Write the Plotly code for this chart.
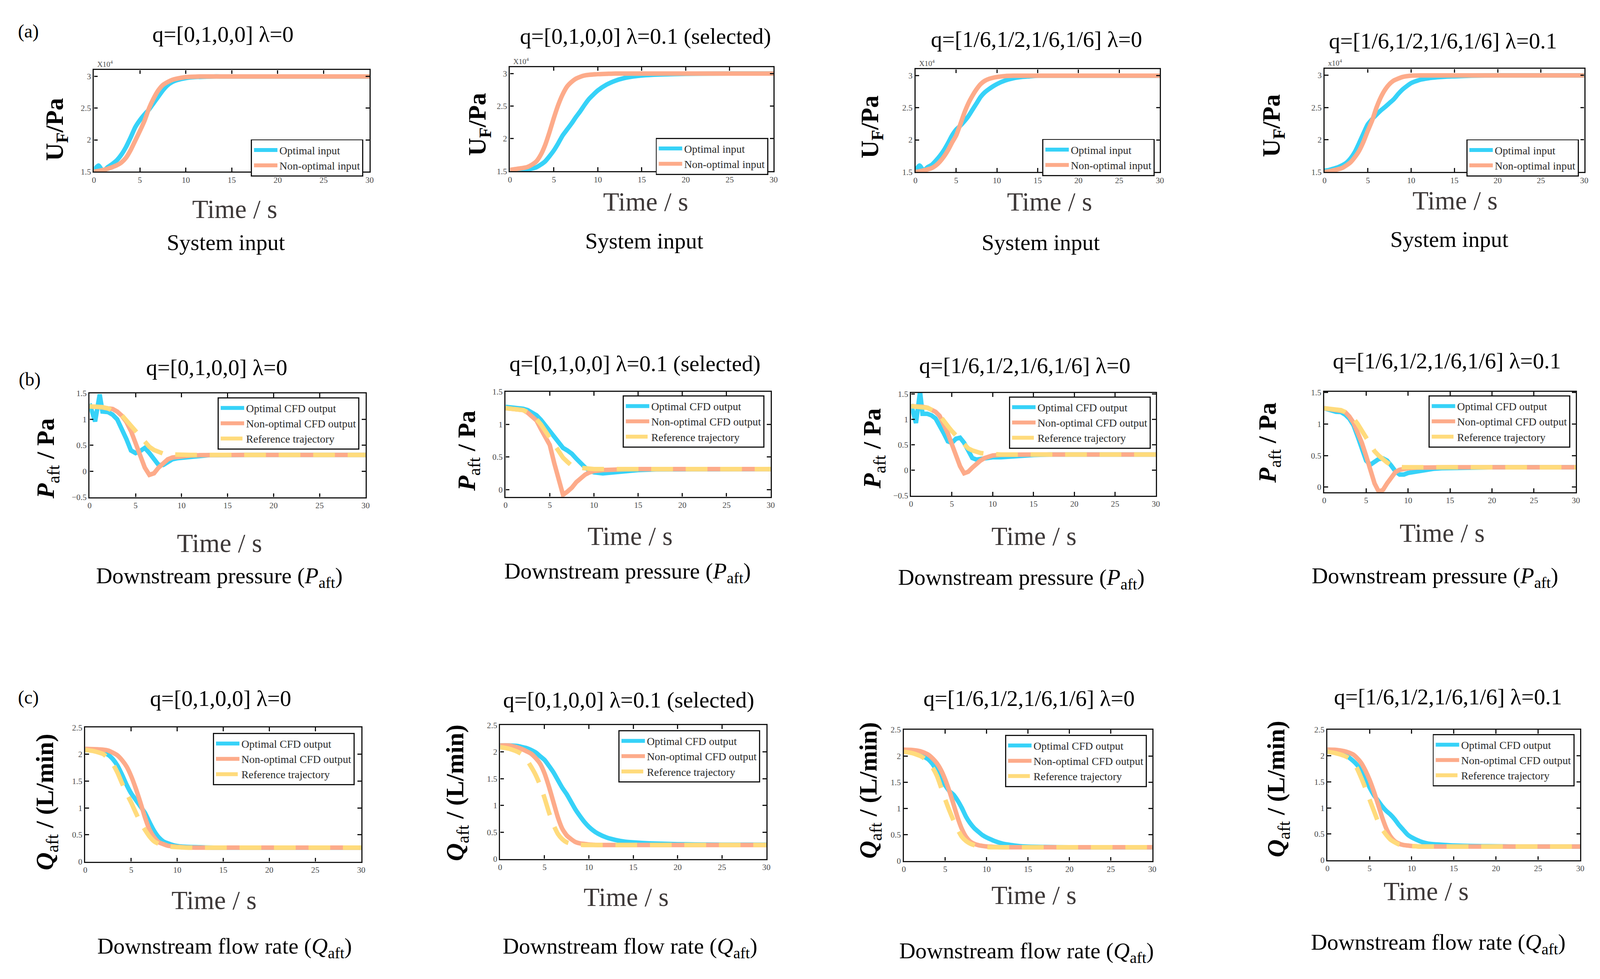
import plotly.graph_objects as go

# reference page size; sizes below are scaled so the figure can fill the window
REF_W, REF_H = 4377, 2506
S = 0.96
FONT = "Liberation Serif, Times New Roman, serif"
BLUE = "#36D2F8"
ORANGE = "#FDAB8A"
YELLOW = "#FFDB7C"

# ---- row (a): system input, units of 1e4 Pa ----
t_in = [0, 0.5, 1, 1.5, 2, 2.5, 3, 3.5, 4, 4.5, 5, 5.5, 6, 6.5, 7, 7.5, 8, 8.5, 9,
        10, 11, 12, 13, 14, 15, 17, 20, 25, 30]
a1_opt = [1.52, 1.595, 1.505, 1.57, 1.62, 1.68, 1.77, 1.89, 2.04, 2.2, 2.31, 2.4, 2.48, 2.58,
          2.68, 2.78, 2.86, 2.91, 2.94, 2.975, 2.99, 2.995, 3.0, 3.0, 3.0, 3.0, 3.0, 3.0, 3.0]
a1_non = [1.5, 1.51, 1.525, 1.545, 1.57, 1.6, 1.645, 1.72, 1.84, 1.99, 2.14, 2.3, 2.5, 2.655,
          2.78, 2.865, 2.91, 2.945, 2.965, 2.99, 2.997, 3.0, 3.0, 3.0, 3.0, 3.0, 3.0, 3.0, 3.0]
a2_opt = [1.5, 1.505, 1.51, 1.515, 1.525, 1.54, 1.56, 1.6, 1.65, 1.73, 1.82, 1.93, 2.05, 2.14,
          2.23, 2.33, 2.42, 2.52, 2.61, 2.74, 2.83, 2.89, 2.93, 2.955, 2.97, 2.985, 2.995, 3.0, 3.0]
a2_non = [1.52, 1.53, 1.54, 1.55, 1.565, 1.6, 1.65, 1.75, 1.9, 2.1, 2.32, 2.52, 2.68, 2.8,
          2.87, 2.92, 2.95, 2.97, 2.98, 2.99, 2.995, 3.0, 3.0, 3.0, 3.0, 3.0, 3.0, 3.0, 3.0]
a3_opt = [1.52, 1.6, 1.525, 1.575, 1.61, 1.675, 1.75, 1.84, 1.95, 2.07, 2.16, 2.22, 2.29, 2.37,
          2.47, 2.57, 2.67, 2.74, 2.79, 2.87, 2.925, 2.96, 2.98, 2.99, 3.0, 3.0, 3.0, 3.0, 3.0]
a3_non = [1.5, 1.51, 1.525, 1.54, 1.56, 1.6, 1.66, 1.74, 1.84, 1.96, 2.07, 2.24, 2.42, 2.57,
          2.69, 2.79, 2.87, 2.92, 2.95, 2.98, 2.995, 3.0, 3.0, 3.0, 3.0, 3.0, 3.0, 3.0, 3.0]
a4_opt = [1.52, 1.53, 1.55, 1.57, 1.6, 1.64, 1.71, 1.81, 1.95, 2.1, 2.24, 2.32, 2.39, 2.455,
          2.51, 2.57, 2.63, 2.71, 2.78, 2.88, 2.93, 2.955, 2.97, 2.98, 2.985, 2.995, 3.0, 3.0, 3.0]
a4_non = [1.5, 1.51, 1.525, 1.54, 1.56, 1.6, 1.65, 1.73, 1.83, 1.97, 2.14, 2.3, 2.5, 2.66,
          2.78, 2.865, 2.92, 2.95, 2.975, 2.995, 3.0, 3.0, 3.0, 3.0, 3.0, 3.0, 3.0, 3.0, 3.0]

# ---- row (b): downstream pressure, Pa ----
t_p = [0, 0.6, 1.1, 1.4, 2, 2.5, 3, 3.5, 4, 4.5, 5, 5.5, 6, 6.5, 7, 7.5, 8, 8.5, 9, 9.5,
       10, 11, 12, 13, 14, 15, 17, 20, 25, 30]
b1_opt = [1.30, 0.96, 1.48, 1.15, 1.14, 1.09, 1.0, 0.83, 0.62, 0.40, 0.35, 0.39, 0.45, 0.35, 0.23,
          0.12, 0.12, 0.18, 0.23, 0.25, 0.26, 0.29, 0.305, 0.31, 0.31, 0.315, 0.315, 0.315, 0.315, 0.315]
b1_non = [1.25, 1.245, 1.235, 1.23, 1.21, 1.2, 1.15, 1.07, 0.95, 0.775, 0.54, 0.29, 0.07, -0.07, -0.04,
          0.07, 0.165, 0.23, 0.265, 0.28, 0.295, 0.305, 0.31, 0.315, 0.315, 0.315, 0.315, 0.315, 0.315, 0.315]
b1_ref = [1.25, 1.245, 1.24, 1.235, 1.21, 1.18, 1.13, 1.08, 0.98, 0.88, 0.78, 0.66, 0.555, 0.47, 0.41,
          0.37, 0.34, 0.325, 0.32, 0.315, 0.315, 0.315, 0.315, 0.315, 0.315, 0.315, 0.315, 0.315, 0.315, 0.315]
b2_opt = [1.27, 1.265, 1.26, 1.255, 1.24, 1.22, 1.18, 1.14, 1.07, 0.98, 0.91, 0.81, 0.71, 0.64, 0.6,
          0.55, 0.475, 0.4, 0.34, 0.29, 0.265, 0.25, 0.265, 0.28, 0.29, 0.3, 0.31, 0.315, 0.315, 0.315]
b2_non = [1.25, 1.245, 1.24, 1.235, 1.22, 1.18, 1.13, 1.06, 0.93, 0.81, 0.685, 0.41, 0.165, -0.08, -0.03,
          0.03, 0.115, 0.18, 0.23, 0.265, 0.285, 0.3, 0.31, 0.315, 0.315, 0.315, 0.315, 0.315, 0.315, 0.315]
b2_ref = [1.25, 1.245, 1.24, 1.235, 1.22, 1.19, 1.14, 1.08, 1.0, 0.9, 0.785, 0.685, 0.585, 0.49, 0.425,
          0.365, 0.34, 0.33, 0.32, 0.315, 0.315, 0.315, 0.315, 0.315, 0.315, 0.315, 0.315, 0.315, 0.315, 0.315]
b3_opt = [1.3, 0.93, 1.55, 1.11, 1.11, 1.08, 1.02, 0.89, 0.73, 0.57, 0.54, 0.62, 0.64, 0.54, 0.38,
          0.24, 0.21, 0.22, 0.24, 0.25, 0.255, 0.255, 0.27, 0.28, 0.29, 0.3, 0.31, 0.31, 0.31, 0.31]
b3_non = [1.26, 1.26, 1.26, 1.25, 1.23, 1.19, 1.15, 1.07, 0.92, 0.73, 0.51, 0.29, 0.08, -0.06, -0.03,
          0.05, 0.13, 0.19, 0.24, 0.265, 0.29, 0.305, 0.31, 0.31, 0.31, 0.31, 0.31, 0.31, 0.31, 0.31]
b3_ref = [1.26, 1.255, 1.25, 1.245, 1.23, 1.19, 1.15, 1.08, 0.99, 0.87, 0.77, 0.68, 0.58, 0.49, 0.43,
          0.39, 0.355, 0.34, 0.33, 0.32, 0.315, 0.31, 0.31, 0.31, 0.31, 0.31, 0.31, 0.31, 0.31, 0.31]
b4_opt = [1.25, 1.22, 1.2, 1.195, 1.19, 1.15, 1.085, 0.98, 0.8, 0.6, 0.42, 0.355, 0.405, 0.445, 0.455,
          0.42, 0.34, 0.25, 0.2, 0.2, 0.225, 0.25, 0.28, 0.29, 0.3, 0.305, 0.31, 0.315, 0.315, 0.315]
b4_non = [1.25, 1.24, 1.23, 1.225, 1.21, 1.19, 1.12, 1.02, 0.88, 0.7, 0.495, 0.265, 0.06, -0.07, -0.045,
          0.06, 0.16, 0.24, 0.275, 0.29, 0.3, 0.31, 0.315, 0.315, 0.315, 0.315, 0.315, 0.315, 0.315, 0.315]
b4_ref = [1.25, 1.245, 1.24, 1.235, 1.22, 1.19, 1.15, 1.09, 1.0, 0.89, 0.78, 0.67, 0.57, 0.5, 0.44,
          0.39, 0.35, 0.33, 0.32, 0.315, 0.315, 0.315, 0.315, 0.315, 0.315, 0.315, 0.315, 0.315, 0.315, 0.315]

# ---- row (c): downstream flow rate, L/min ----
t_q = [0, 1, 2, 2.5, 3, 3.5, 4, 4.5, 5, 5.5, 6, 6.5, 7, 7.5, 8, 8.5, 9, 9.5, 10, 10.5,
       11, 12, 13, 14, 15, 17, 20, 22, 25, 30]
c1_opt = [2.08, 2.07, 2.03, 1.99, 1.91, 1.79, 1.62, 1.43, 1.27, 1.15, 1.03, 0.905, 0.73, 0.57, 0.45,
          0.375, 0.34, 0.31, 0.29, 0.28, 0.275, 0.27, 0.265, 0.26, 0.26, 0.26, 0.26, 0.26, 0.26, 0.26]
c1_non = [2.1, 2.095, 2.085, 2.07, 2.03, 1.98, 1.89, 1.77, 1.59, 1.36, 1.1, 0.82, 0.59, 0.45, 0.36,
          0.325, 0.295, 0.285, 0.275, 0.27, 0.265, 0.26, 0.26, 0.26, 0.26, 0.26, 0.26, 0.26, 0.26, 0.26]
c1_ref = [2.08, 2.056, 2.0, 1.92, 1.82, 1.66, 1.46, 1.27, 1.1, 0.91, 0.73, 0.59, 0.465, 0.375, 0.33,
          0.3, 0.285, 0.275, 0.27, 0.265, 0.26, 0.26, 0.26, 0.26, 0.26, 0.26, 0.26, 0.26, 0.26, 0.26]
c2_opt = [2.12, 2.12, 2.11, 2.09, 2.07, 2.035, 1.99, 1.92, 1.85, 1.74, 1.62, 1.475, 1.33, 1.21, 1.065,
          0.92, 0.8, 0.69, 0.6, 0.53, 0.475, 0.4, 0.355, 0.325, 0.31, 0.29, 0.275, 0.27, 0.265, 0.265]
c2_non = [2.12, 2.12, 2.08, 2.05, 2.01, 1.965, 1.885, 1.78, 1.6, 1.35, 1.065, 0.78, 0.565, 0.44, 0.37,
          0.315, 0.29, 0.28, 0.27, 0.265, 0.26, 0.26, 0.26, 0.26, 0.26, 0.26, 0.26, 0.26, 0.26, 0.26]
c2_ref = [2.09, 2.06, 2.0, 1.95, 1.85, 1.72, 1.57, 1.38, 1.14, 0.87, 0.64, 0.47, 0.37, 0.31, 0.285,
          0.27, 0.265, 0.26, 0.26, 0.26, 0.26, 0.26, 0.26, 0.26, 0.26, 0.26, 0.26, 0.26, 0.26, 0.26]
c3_opt = [2.1, 2.065, 2.02, 1.98, 1.93, 1.84, 1.71, 1.57, 1.44, 1.33, 1.26, 1.15, 1.01, 0.845, 0.72,
          0.625, 0.555, 0.49, 0.445, 0.41, 0.375, 0.325, 0.3, 0.28, 0.27, 0.265, 0.26, 0.26, 0.26, 0.26]
c3_non = [2.12, 2.115, 2.09, 2.06, 2.02, 1.95, 1.86, 1.73, 1.55, 1.33, 1.08, 0.825, 0.61, 0.46, 0.37,
          0.325, 0.3, 0.285, 0.275, 0.27, 0.265, 0.26, 0.26, 0.26, 0.26, 0.26, 0.26, 0.26, 0.26, 0.26]
c3_ref = [2.08, 2.055, 2.0, 1.95, 1.875, 1.77, 1.62, 1.4, 1.17, 0.96, 0.77, 0.6, 0.46, 0.38, 0.33,
          0.3, 0.28, 0.27, 0.265, 0.26, 0.26, 0.26, 0.26, 0.26, 0.26, 0.26, 0.26, 0.26, 0.26, 0.26]
c4_opt = [2.1, 2.07, 2.03, 1.975, 1.91, 1.83, 1.72, 1.56, 1.395, 1.25, 1.14, 1.03, 0.94, 0.87, 0.78,
          0.67, 0.58, 0.49, 0.435, 0.395, 0.36, 0.315, 0.3, 0.29, 0.28, 0.27, 0.265, 0.26, 0.26, 0.26]
c4_non = [2.12, 2.115, 2.09, 2.065, 2.03, 1.96, 1.865, 1.72, 1.54, 1.32, 1.07, 0.815, 0.6, 0.45, 0.36,
          0.315, 0.29, 0.28, 0.27, 0.265, 0.26, 0.26, 0.26, 0.26, 0.26, 0.26, 0.26, 0.26, 0.26, 0.26]
c4_ref = [2.08, 2.05, 2.0, 1.96, 1.88, 1.76, 1.58, 1.38, 1.16, 0.95, 0.74, 0.59, 0.48, 0.39, 0.34,
          0.3, 0.285, 0.275, 0.27, 0.265, 0.26, 0.26, 0.26, 0.26, 0.26, 0.26, 0.26, 0.26, 0.26, 0.26]

# ---- labels ----
q_titles = ["q=[0,1,0,0] λ=0", "q=[0,1,0,0] λ=0.1 (selected)",
            "q=[1/6,1/2,1/6,1/6] λ=0", "q=[1/6,1/2,1/6,1/6] λ=0.1"]
row_tags = ["(a)", "(b)", "(c)"]
row_captions = ["System input",
                "Downstream pressure (<i>P</i><sub>aft</sub>)",
                "Downstream flow rate (<i>Q</i><sub>aft</sub>)"]
y_labels = ["<b>U<sub>F</sub>/Pa</b>",
            "<b><i>P</i></b><sub>aft</sub><b> / Pa</b>",
            "<b><i>Q</i></b><sub>aft</sub><b> / (L/min)</b>"]
x_label = "Time / s"
names_in = ["Optimal input", "Non-optimal input"]
names_out = ["Optimal CFD output", "Non-optimal CFD output", "Reference trajectory"]
exp_labels = ["X10<sup>4</sup>", "X10<sup>4</sup>", "X10<sup>4</sup>", "x10<sup>4</sup>"]
x_ticks = [0, 5, 10, 15, 20, 25, 30]
y_ticks_a = [1.5, 2, 2.5, 3]
y_ticks_b = [-0.5, 0, 0.5, 1, 1.5]
y_ticks_c = [0, 0.5, 1, 1.5, 2, 2.5]

series = [
    (t_in, [a1_opt, a1_non]), (t_in, [a2_opt, a2_non]), (t_in, [a3_opt, a3_non]), (t_in, [a4_opt, a4_non]),
    (t_p, [b1_opt, b1_non, b1_ref]), (t_p, [b2_opt, b2_non, b2_ref]),
    (t_p, [b3_opt, b3_non, b3_ref]), (t_p, [b4_opt, b4_non, b4_ref]),
    (t_q, [c1_opt, c1_non, c1_ref]), (t_q, [c2_opt, c2_non, c2_ref]),
    (t_q, [c3_opt, c3_non, c3_ref]), (t_q, [c4_opt, c4_non, c4_ref]),
]

# ---- layout geometry in reference pixels (left, right, top, bottom) ----
BOX = [(245, 1005, 162, 426), (1392, 2119, 154, 425), (2510, 3184, 160, 427), (3638, 4354, 159, 427),
       (233, 994, 1003, 1273), (1380, 2111, 999, 1272), (2498, 3173, 1002, 1269), (3637, 4331, 999, 1260),
       (221, 982, 1872, 2221), (1365, 2099, 1866, 2214), (2478, 3163, 1878, 2219), (3646, 4343, 1878, 2217)]
Y_RANGE = [[1.5, 3.1]] * 4 + [[-0.5, 1.5], [-0.11, 1.5], [-0.5, 1.52], [-0.08, 1.51]] + [[0, 2.5]] * 4
TITLE_POS = [(601, 69), (1766, 74), (2844, 82), (3965, 86), (584, 935), (1737, 926), (2812, 930),
             (3975, 918), (594, 1796), (1719, 1801), (2823, 1796), (3978, 1792)]
XLAB_POS = [(633, 524), (1766, 505), (2880, 505), (3998, 501), (591, 1393), (1723, 1374), (2837, 1374),
            (3962, 1366), (576, 2322), (1712, 2313), (2837, 2308), (3918, 2298)]
CAP_POS = [(608, 610), (1762, 606), (2855, 610), (3982, 602), (591, 1482), (1716, 1469), (2802, 1486),
           (3942, 1482), (605, 2445), (1723, 2445), (2816, 2457), (3952, 2435)]
YLAB_POS = [(142, 316), (1307, 303), (2389, 310), (3496, 307), (117, 1173), (1278, 1153), (2396, 1147),
            (3486, 1132), (114, 2066), (1246, 2042), (2385, 2035), (3510, 2032)]
LEG_POS = [(988, 342), (2104, 338), (3170, 341), (4339, 342), (977, 1013), (2094, 1008), (3159, 1011),
           (4316, 1008), (964, 1886), (2082, 1879), (3148, 1891), (4327, 1889)]
TAG_POS = [(64, 61), (68, 966), (64, 1794)]


def px(x):
    return x / REF_W


def py(y):
    return 1 - y / REF_H


def sz(v):
    return round(v * S, 1)


def ann(text, x, y, size, color="black", **kw):
    return dict(text=text, x=px(x), y=py(y), xref="paper", yref="paper", showarrow=False,
                xanchor="center", yanchor="middle", font=dict(family=FONT, size=sz(size), color=color), **kw)


axis_style = dict(showline=True, linecolor="#151515", linewidth=sz(3.5), mirror="ticks",
                  ticks="inside", ticklen=sz(10), tickwidth=sz(3), tickcolor="#151515",
                  showgrid=False, zeroline=False,
                  tickfont=dict(family=FONT, size=sz(22), color="#4a4a4a"))

fig = go.Figure()
layout = {}
annotations = []

for k in range(12):
    row = k // 4
    n = k + 1
    sfx = "" if n == 1 else str(n)
    leg = "legend" + sfx
    t_vals, ys = series[k]
    names = names_in if row == 0 else names_out
    colors = [BLUE, ORANGE, YELLOW]
    for j, y_vals in enumerate(ys):
        fig.add_trace(go.Scatter(
            x=t_vals, y=y_vals, mode="lines", name=names[j],
            line=dict(color=colors[j], width=sz(12),
                      dash=f"{sz(58)}px,{sz(34)}px" if j == 2 else "solid",
                      shape="linear" if row == 1 else "spline", smoothing=0.6),
            xaxis="x" + sfx, yaxis="y" + sfx, legend=leg))

    l, r, t, b = BOX[k]
    y_ticks = [y_ticks_a, y_ticks_b, y_ticks_c][row]
    layout["xaxis" + sfx] = dict(domain=[px(l), px(r)], anchor="y" + sfx, range=[0, 30],
                                 tickvals=x_ticks, **axis_style)
    layout["yaxis" + sfx] = dict(domain=[py(b), py(t)], anchor="x" + sfx, range=Y_RANGE[k],
                                 tickvals=y_ticks, **axis_style)
    lx, ly = LEG_POS[k]
    layout[leg] = dict(x=px(lx), y=py(ly), xanchor="right", yanchor="top",
                       bgcolor="white", bordercolor="#151515", borderwidth=sz(3),
                       font=dict(family=FONT, size=sz(29), color="#2a2a2a"),
                       itemwidth=60, tracegroupgap=0)

    annotations.append(ann(q_titles[k % 4], *TITLE_POS[k], 60))
    annotations.append(ann(x_label, *XLAB_POS[k], 70, color="#3d3838"))
    annotations.append(ann(row_captions[row], *CAP_POS[k], 60))
    annotations.append(ann(y_labels[row], *YLAB_POS[k], 66, textangle=-90))
    if row == 0:
        annotations.append(dict(text=exp_labels[k], x=0, y=1, xref="x" + sfx + " domain",
                                yref="y" + sfx + " domain", xanchor="left", yanchor="bottom",
                                xshift=7, yshift=2, showarrow=False,
                                font=dict(family=FONT, size=sz(20), color="#4a4a4a")))

for i, tag in enumerate(row_tags):
    annotations.append(ann(tag, *TAG_POS[i], 50))

fig.update_layout(
    autosize=True,
    margin=dict(l=0, r=0, t=0, b=0),
    paper_bgcolor="white", plot_bgcolor="white",
    font=dict(family=FONT, color="black"),
    showlegend=True,
    annotations=annotations,
    **layout,
)

fig.write_html("out.html")
